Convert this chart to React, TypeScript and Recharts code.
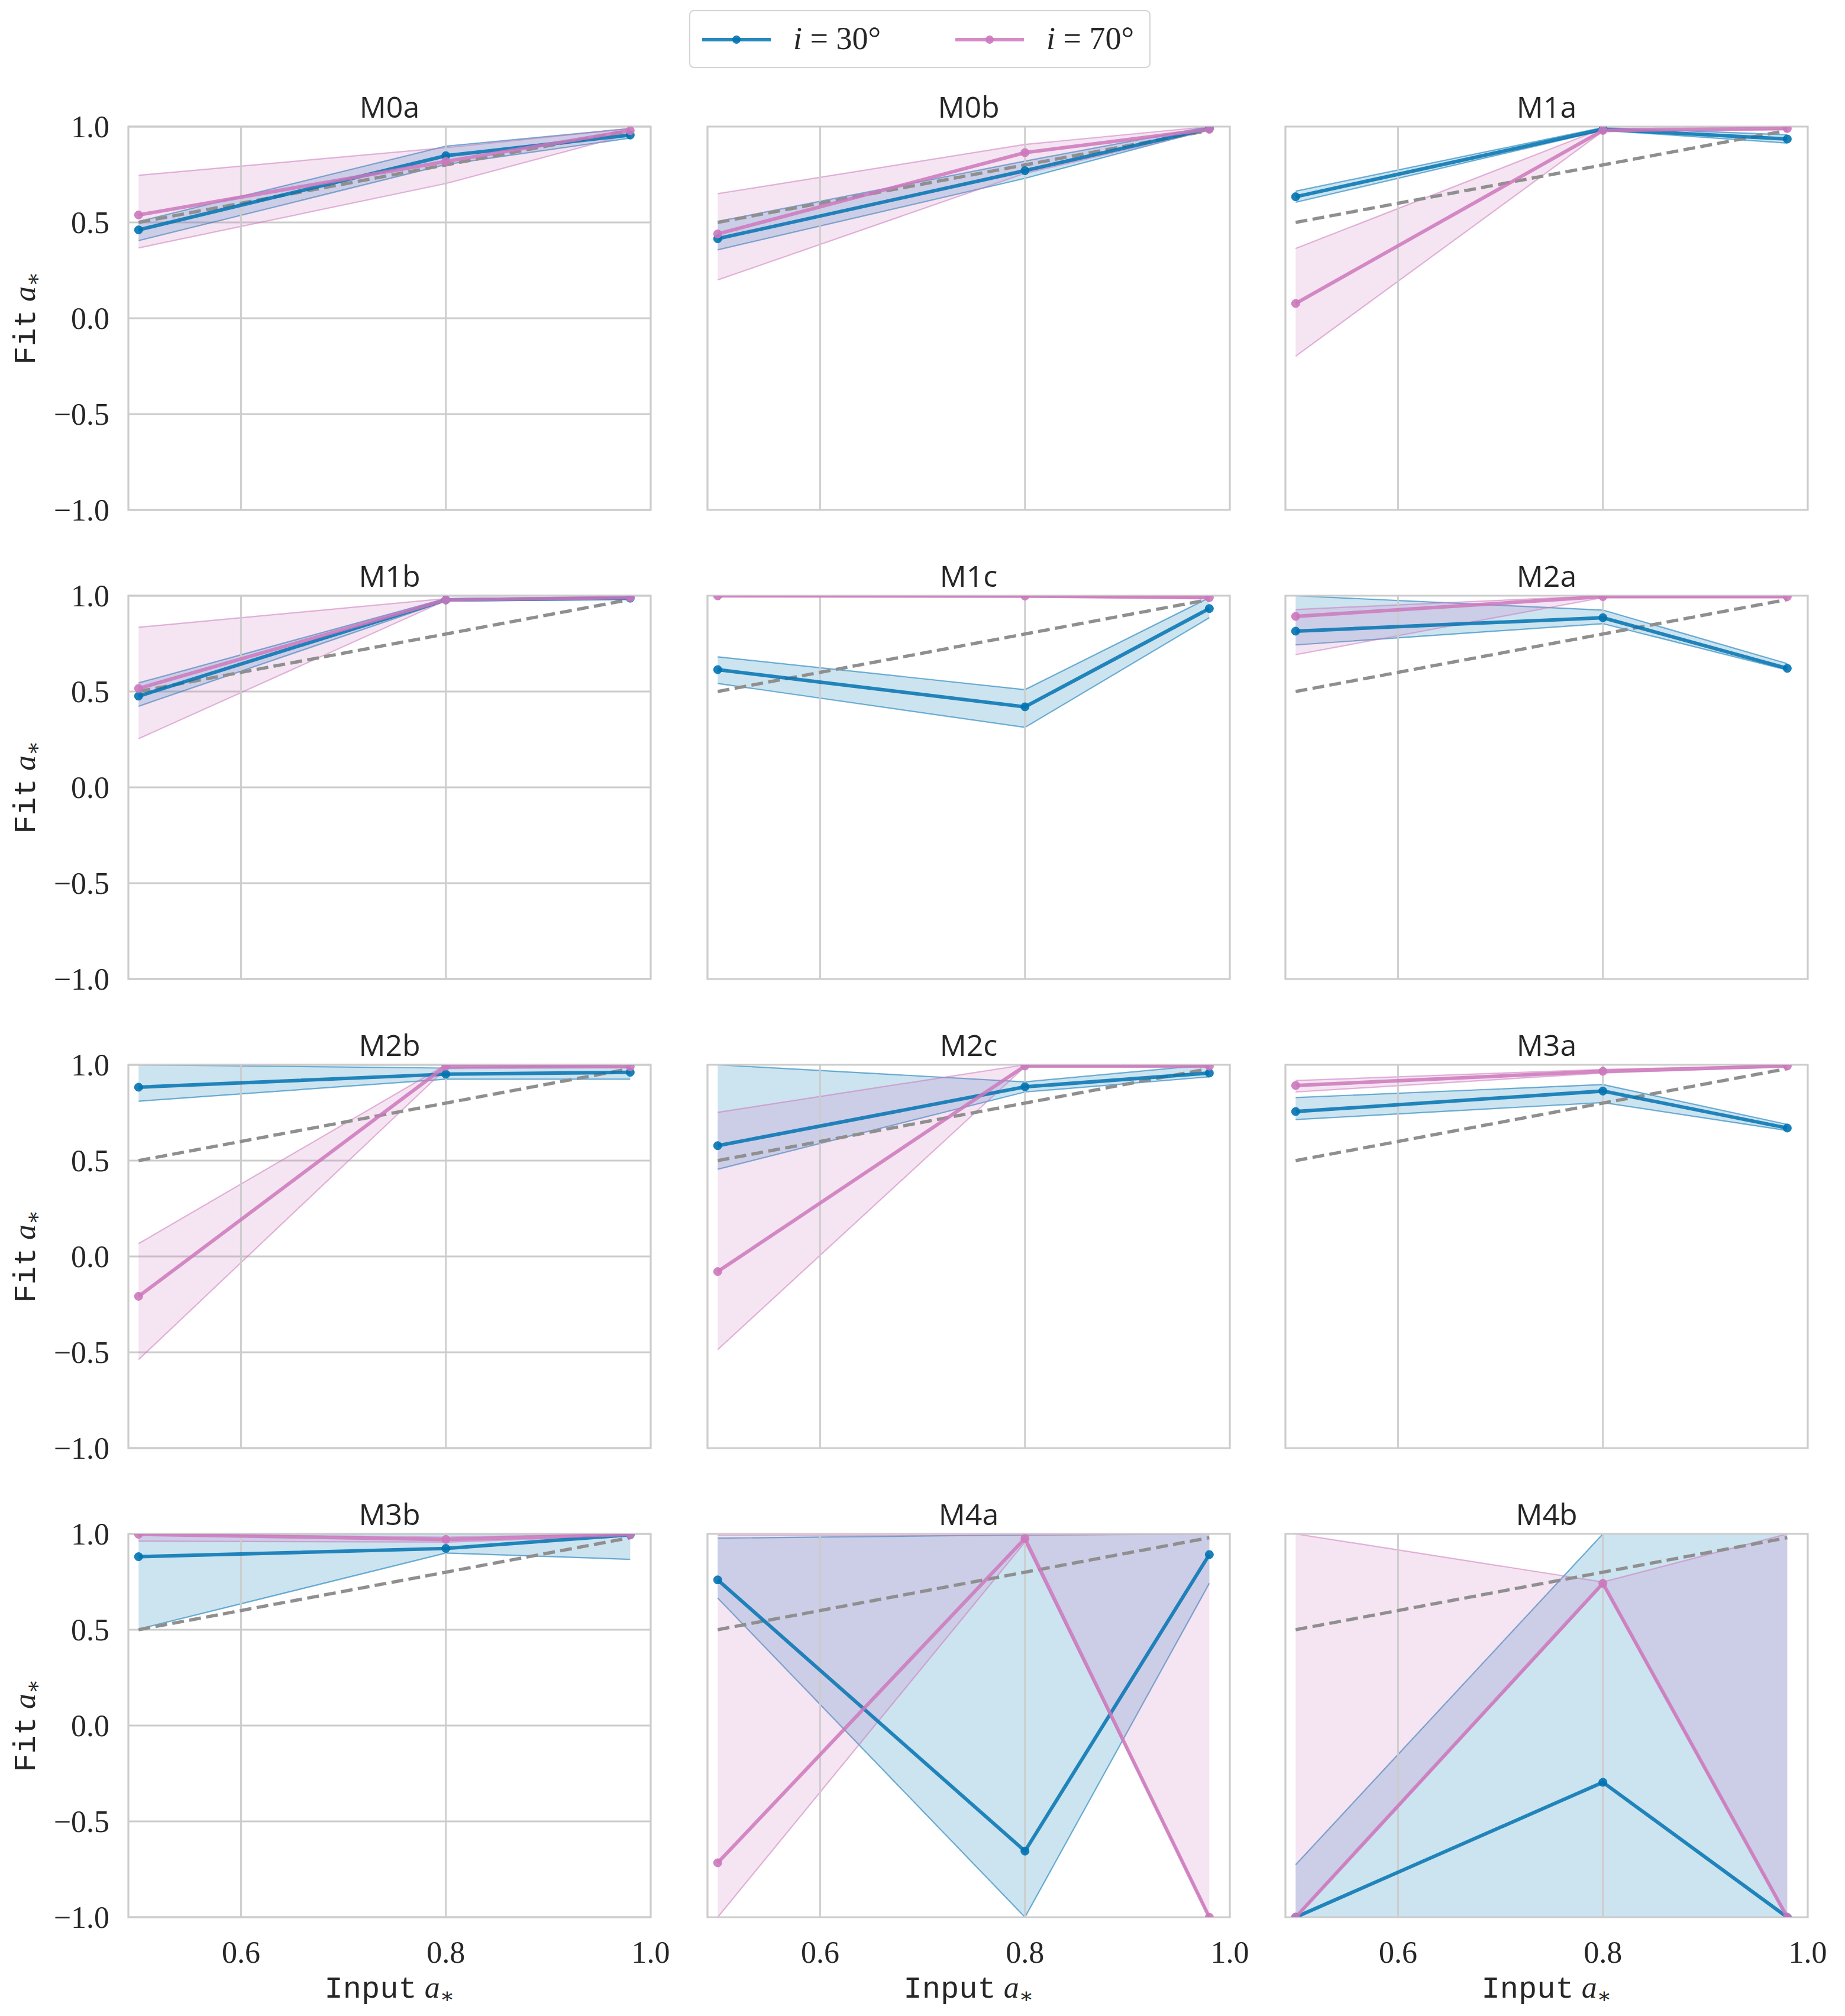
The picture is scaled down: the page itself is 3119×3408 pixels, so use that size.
import React from 'react';
import { ComposedChart, Area, Line, XAxis, YAxis, CartesianGrid, ReferenceArea, ReferenceLine } from 'recharts';

// input spin values (x) and the ideal y = x reference
const inputSpin = [0.5, 0.8, 0.98];
const idealSpin = [0.5, 0.8, 0.98];

const models = ['M0a', 'M0b', 'M1a', 'M1b', 'M1c', 'M2a', 'M2b', 'M2c', 'M3a', 'M3b', 'M4a', 'M4b'];

// i = 30 deg : median fit and band
const mean30 = [
  [0.461, 0.848, 0.956],
  [0.415, 0.77, 0.99],
  [0.634, 0.986, 0.935],
  [0.476, 0.978, 0.987],
  [0.614, 0.42, 0.933],
  [0.815, 0.885, 0.621],
  [0.883, 0.951, 0.961],
  [0.578, 0.885, 0.957],
  [0.756, 0.863, 0.67],
  [0.881, 0.924, 0.995],
  [0.76, -0.655, 0.892],
  [-1.0, -0.296, -1.0],
];
const lo30 = [
  [0.405, 0.802, 0.94],
  [0.357, 0.73, 0.985],
  [0.605, 0.98, 0.914],
  [0.423, 0.972, 0.98],
  [0.542, 0.313, 0.885],
  [0.743, 0.854, 0.612],
  [0.81, 0.925, 0.925],
  [0.455, 0.858, 0.937],
  [0.714, 0.803, 0.657],
  [0.503, 0.9, 0.867],
  [0.665, -1.0, 0.742],
  [-1.0, -1.0, -1.0],
];
const hi30 = [
  [0.505, 0.898, 0.99],
  [0.505, 0.82, 1.0],
  [0.663, 0.995, 0.957],
  [0.545, 0.985, 0.993],
  [0.681, 0.51, 0.99],
  [1.0, 0.925, 0.646],
  [1.0, 0.983, 1.0],
  [1.0, 0.911, 1.0],
  [0.829, 0.897, 0.689],
  [1.0, 1.0, 1.0],
  [0.978, 0.995, 1.0],
  [-0.726, 1.0, 1.0],
];

// i = 70 deg : median fit and band
const mean70 = [
  [0.539, 0.818, 0.979],
  [0.44, 0.864, 0.986],
  [0.077, 0.98, 0.99],
  [0.516, 0.978, 0.99],
  [0.999, 0.998, 0.99],
  [0.892, 0.995, 0.995],
  [-0.208, 0.993, 0.99],
  [-0.079, 0.994, 0.993],
  [0.892, 0.966, 0.994],
  [0.998, 0.971, 0.997],
  [-0.716, 0.976, -1.0],
  [-1.0, 0.742, -1.0],
];
const lo70 = [
  [0.367, 0.703, 0.96],
  [0.2, 0.756, 0.98],
  [-0.198, 0.975, 0.985],
  [0.254, 0.975, 0.985],
  [0.997, 0.995, 0.985],
  [0.692, 0.99, 0.99],
  [-0.538, 0.98, 0.985],
  [-0.486, 0.99, 0.99],
  [0.858, 0.957, 0.99],
  [0.962, 0.957, 0.99],
  [-1.0, 0.957, -1.0],
  [-1.0, 0.735, -1.0],
];
const hi70 = [
  [0.746, 0.89, 0.99],
  [0.65, 0.907, 1.0],
  [0.364, 0.99, 1.0],
  [0.835, 0.985, 0.995],
  [1.0, 1.0, 0.995],
  [0.928, 1.0, 1.0],
  [0.067, 1.0, 0.995],
  [0.752, 1.0, 1.0],
  [0.918, 0.976, 0.998],
  [1.0, 0.983, 1.0],
  [0.993, 0.993, 1.0],
  [1.0, 0.749, 1.0],
];

const xTicks = [0.6, 0.8, 1.0];
const yTicks = [-1, -0.5, 0, 0.5, 1];
const xGrid = [0.6, 0.8];

const BLUE = '#0173b2';
const PINK = '#cc78bc';
const GRID = '#cccccc';
const TEXT = '#262626';
const SERIF = '"Liberation Serif", "DejaVu Serif", serif';
const MONO = '"Liberation Mono", "DejaVu Sans Mono", monospace';
const SANS = '"Liberation Sans Narrow", "Open Sans", Roboto, sans-serif';

const COL_LEFT = [217, 1196, 2173];
const ROW_TOP = [214, 1007, 1800, 2593];
const PW = 883;
const PH = 648;
const YW = 200;
const XH = 110;
const MT = 40;
const MR = 45;

const fmt = (v: number) => (v < 0 ? '\u2212' : '') + Math.abs(v).toFixed(1);

const AStar = () => (
  <span style={{ fontFamily: SERIF, fontStyle: 'italic' }}>
    a
    <span style={{ fontStyle: 'normal', fontSize: '0.7em', position: 'relative', top: '0.25em' }}>∗</span>
  </span>
);

function Panel({ idx }: { idx: number }) {
  const col = idx % 3;
  const row = Math.floor(idx / 3);
  const showY = col === 0;
  const showX = row === 3;
  const data = inputSpin.map((x, k) => ({
    x,
    ideal: idealSpin[k],
    m30: mean30[idx][k],
    b30: [lo30[idx][k], hi30[idx][k]],
    m70: mean70[idx][k],
    b70: [lo70[idx][k], hi70[idx][k]],
  }));
  const tickStyle = { fontSize: 52, fontFamily: SERIF, fill: TEXT };
  const left = COL_LEFT[col];
  const top = ROW_TOP[row];
  return (
    <>
      <div
        style={{
          position: 'absolute',
          left,
          width: PW,
          top: top - 64,
          height: 60,
          lineHeight: '60px',
          textAlign: 'center',
          fontFamily: SANS,
          fontSize: 50,
          color: TEXT,
        }}
      >
        {models[idx]}
      </div>
      <div style={{ position: 'absolute', left: left - YW, top: top - MT }}>
        <ComposedChart
          width={YW + PW + MR}
          height={MT + PH + XH}
          data={data}
          margin={{ top: MT, right: MR, bottom: 0, left: 0 }}
        >
          <CartesianGrid stroke={GRID} strokeWidth={2.8} vertical={false} horizontalValues={yTicks} />
          <XAxis
            dataKey="x"
            type="number"
            domain={[0.49, 1.0]}
            ticks={xTicks}
            allowDataOverflow
            interval={0}
            height={XH}
            axisLine={false}
            tickLine={false}
            tickSize={0}
            tickMargin={40}
            tick={showX ? tickStyle : false}
            tickFormatter={fmt}
          />
          <YAxis
            type="number"
            domain={[-1, 1]}
            ticks={yTicks}
            allowDataOverflow
            interval={0}
            width={YW}
            axisLine={false}
            tickLine={false}
            tickSize={0}
            tickMargin={32}
            tick={showY ? tickStyle : false}
            tickFormatter={fmt}
          />
          {xGrid.map((g) => (
            <ReferenceLine key={g} x={g} stroke={GRID} strokeWidth={2.8} />
          ))}
          <Area
            type="linear"
            dataKey="b30"
            fill={BLUE}
            fillOpacity={0.2}
            stroke={BLUE}
            strokeOpacity={0.55}
            strokeWidth={2.2}
            isAnimationActive={false}
          />
          <Area
            type="linear"
            dataKey="b70"
            fill={PINK}
            fillOpacity={0.2}
            stroke={PINK}
            strokeOpacity={0.55}
            strokeWidth={2.2}
            isAnimationActive={false}
          />
          <Line
            type="linear"
            dataKey="ideal"
            stroke="#8f8f8f"
            strokeWidth={5.5}
            strokeDasharray="20 9"
            dot={false}
            isAnimationActive={false}
          />
          <Line
            type="linear"
            dataKey="m30"
            stroke={BLUE}
            strokeOpacity={0.85}
            strokeWidth={6}
            dot={{ r: 7, fill: BLUE, stroke: BLUE, strokeWidth: 1, fillOpacity: 0.9, strokeOpacity: 0.9 }}
            isAnimationActive={false}
          />
          <Line
            type="linear"
            dataKey="m70"
            stroke={PINK}
            strokeOpacity={0.85}
            strokeWidth={6}
            dot={{ r: 7, fill: PINK, stroke: PINK, strokeWidth: 1, fillOpacity: 0.9, strokeOpacity: 0.9 }}
            isAnimationActive={false}
          />
          <ReferenceArea
            x1={0.49}
            x2={1.0}
            y1={-1}
            y2={1}
            fill="none"
            stroke={GRID}
            strokeWidth={3.2}
            ifOverflow="visible"
          />
        </ComposedChart>
      </div>
    </>
  );
}

function LegendItem({ color, label, x }: { color: string; label: string; x: number }) {
  return (
    <>
      <svg style={{ position: 'absolute', left: x, top: 36 }} width={116} height={24}>
        <line x1={0} y1={12} x2={116} y2={12} stroke={color} strokeOpacity={0.85} strokeWidth={6} />
        <circle cx={58} cy={12} r={7} fill={color} fillOpacity={0.9} />
      </svg>
      <div
        style={{
          position: 'absolute',
          left: x + 154,
          top: 16,
          height: 60,
          lineHeight: '60px',
          fontFamily: SERIF,
          fontSize: 54,
          color: TEXT,
          whiteSpace: 'nowrap',
        }}
      >
        <span style={{ fontStyle: 'italic' }}>i</span> = {label}°
      </div>
    </>
  );
}

export default function App() {
  return (
    <div
      style={{
        position: 'absolute',
        left: 0,
        top: 0,
        width: 3119,
        height: 3408,
        background: '#ffffff',
        overflow: 'hidden',
      }}
    >
      <div
        style={{
          position: 'absolute',
          left: 1165,
          top: 17,
          width: 780,
          height: 98,
          boxSizing: 'border-box',
          border: '2px solid #d4d4d4',
          borderRadius: 8,
          background: '#ffffff',
        }}
      >
        <LegendItem color={BLUE} label="30" x={20} />
        <LegendItem color={PINK} label="70" x={448} />
      </div>

      {models.map((_, i) => (
        <Panel key={i} idx={i} />
      ))}

      {ROW_TOP.map((t, r) => (
        <div
          key={'yl' + r}
          style={{
            position: 'absolute',
            left: 44,
            top: t + PH / 2,
            transform: 'translate(-50%, -50%) rotate(-90deg)',
            whiteSpace: 'nowrap',
            fontSize: 52,
            color: TEXT,
            lineHeight: '60px',
          }}
        >
          <span style={{ fontFamily: MONO }}>Fit</span> <AStar />
        </div>
      ))}

      {COL_LEFT.map((l, c) => (
        <div
          key={'xl' + c}
          style={{
            position: 'absolute',
            left: l,
            width: PW,
            top: 3330,
            height: 60,
            lineHeight: '60px',
            textAlign: 'center',
            whiteSpace: 'nowrap',
            fontSize: 52,
            color: TEXT,
          }}
        >
          <span style={{ fontFamily: MONO }}>Input</span> <AStar />
        </div>
      ))}
    </div>
  );
}
